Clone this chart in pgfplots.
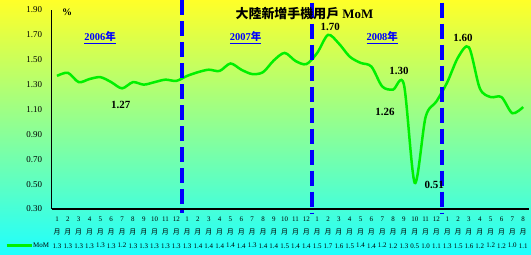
\documentclass[border=0pt]{standalone}
\usepackage{fontspec}
\setmainfont{Liberation Serif}
\newfontfamily\cjk{Noto Sans CJK TC}
\usepackage{pgfplots}
\pgfplotsset{compat=1.18}
\definecolor{lime}{RGB}{0,240,0}
\definecolor{bgtop}{RGB}{255,255,40}
\definecolor{bgmid}{RGB}{200,255,165}
\definecolor{bgbot}{RGB}{30,255,255}
\definecolor{sepblue}{RGB}{0,0,255}
\newcommand\M{{\cjk 月}}
\begin{document}
\begin{tikzpicture}
\shade[top color=bgtop, middle color=bgmid, bottom color=bgbot] (-51.6bp,-46bp) rectangle (479.4bp,209bp);
\begin{axis}[
  at={(0,0)}, anchor=south west,
  scale only axis, width=477bp, height=199bp,
  xmin=-0.5, xmax=43.5, ymin=0.3, ymax=1.9,
  axis lines*=left,
  axis line style={black, line width=1.2bp},
  clip=false,
  major tick length=0pt,
  ytick={0.3,0.5,0.7,0.9,1.1,1.3,1.5,1.7,1.9},
  yticklabels={0.30,0.50,0.70,0.90,1.10,1.30,1.50,1.70,1.90},
  yticklabel style={font=\fontsize{9}{9}\selectfont, xshift=-6bp},
  xtick={0,...,43},
  xticklabels={
   {1\\\M\\1.3},{2\\\M\\1.3},{3\\\M\\1.3},{4\\\M\\1.3},{5\\\M\\1.3},{6\\\M\\1.3},{7\\\M\\1.2},{8\\\M\\1.3},{9\\\M\\1.3},{10\\\M\\1.3},{11\\\M\\1.3},{12\\\M\\1.3},
   {1\\\M\\1.3},{2\\\M\\1.4},{3\\\M\\1.4},{4\\\M\\1.4},{5\\\M\\1.4},{6\\\M\\1.4},{7\\\M\\1.3},{8\\\M\\1.4},{9\\\M\\1.4},{10\\\M\\1.5},{11\\\M\\1.4},{12\\\M\\1.4},
   {1\\\M\\1.5},{2\\\M\\1.7},{3\\\M\\1.6},{4\\\M\\1.5},{5\\\M\\1.4},{6\\\M\\1.4},{7\\\M\\1.2},{8\\\M\\1.2},{9\\\M\\1.3},{10\\\M\\0.5},{11\\\M\\1.0},{12\\\M\\1.1},
   {1\\\M\\1.3},{2\\\M\\1.5},{3\\\M\\1.6},{4\\\M\\1.2},{5\\\M\\1.2},{6\\\M\\1.2},{7\\\M\\1.0},{8\\\M\\1.1}},
  xticklabel style={font=\fontsize{7}{13.5}\selectfont, align=center, yshift=-4bp},
  legend style={at={(-0.0977,-0.1834)}, anchor=west, draw=none, fill=none,
    font=\fontsize{7}{7}\selectfont, inner sep=0pt, nodes={inner sep=0pt},
    /tikz/every even column/.append style={column sep=2bp}},
  legend image code/.code={\draw[#1, line width=3bp] (0bp,0bp) -- (25bp,0bp);},
]
\addplot[lime, line width=2.5bp, smooth, tension=0.5] coordinates {
(0,1.37) (1,1.395) (2,1.32) (3,1.345) (4,1.36) (5,1.32) (6,1.27) (7,1.32) (8,1.30) (9,1.32) (10,1.34) (11,1.33)
(12,1.37) (13,1.40) (14,1.42) (15,1.41) (16,1.47) (17,1.42) (18,1.385) (19,1.40) (20,1.495) (21,1.555) (22,1.49) (23,1.465)
(24,1.555) (25,1.70) (26,1.63) (27,1.525) (28,1.475) (29,1.445) (30,1.285) (31,1.26) (32,1.30) (33,0.51) (34,1.04) (35,1.165)
(36,1.32) (37,1.52) (38,1.60) (39,1.27) (40,1.20) (41,1.20) (42,1.07) (43,1.12)
};
\addlegendentry{MoM}
\addplot[sepblue, line width=4bp, dash pattern=on 15bp off 6bp, forget plot] coordinates {(11.5,1.98) (11.5,0.27)};
\addplot[sepblue, line width=4bp, dash pattern=on 15bp off 6bp, forget plot] coordinates {(23.5,1.96) (23.5,0.27)};
\addplot[sepblue, line width=4bp, dash pattern=on 15bp off 6bp, forget plot] coordinates {(35.5,1.96) (35.5,0.27)};
\begin{scope}[every node/.style={font=\bfseries\fontsize{11}{11}\selectfont}]
\node at (axis cs:5.88,1.136) {1.27};
\node at (axis cs:25.2,1.765) {1.70};
\node at (axis cs:31.55,1.409) {1.30};
\node at (axis cs:30.26,1.08) {1.26};
\node at (axis cs:34.8,0.493) {0.51};
\node at (axis cs:37.45,1.677) {1.60};
\end{scope}
\begin{scope}[every node/.style={font=\bfseries\fontsize{10.5}{10.5}\selectfont, text=sepblue}]
\node at (axis cs:3.97,1.675) {\underline{2006{\cjk 年}}};
\node at (axis cs:17.4,1.675) {\underline{2007{\cjk 年}}};
\node at (axis cs:30.0,1.675) {\underline{2008{\cjk 年}}};
\end{scope}
\node[font=\bfseries\fontsize{10}{10}\selectfont] at (axis cs:0.92,1.884) {\%};
\node[font=\bfseries\fontsize{13}{13}\selectfont, inner sep=0pt] at (axis cs:22.83,1.875) {{\cjk 大陸新增手機用戶} MoM};
\end{axis}
\pgfresetboundingbox
\path[use as bounding box] (-51.6bp,-46bp) rectangle (479.4bp,209bp);
\end{tikzpicture}
\end{document}
